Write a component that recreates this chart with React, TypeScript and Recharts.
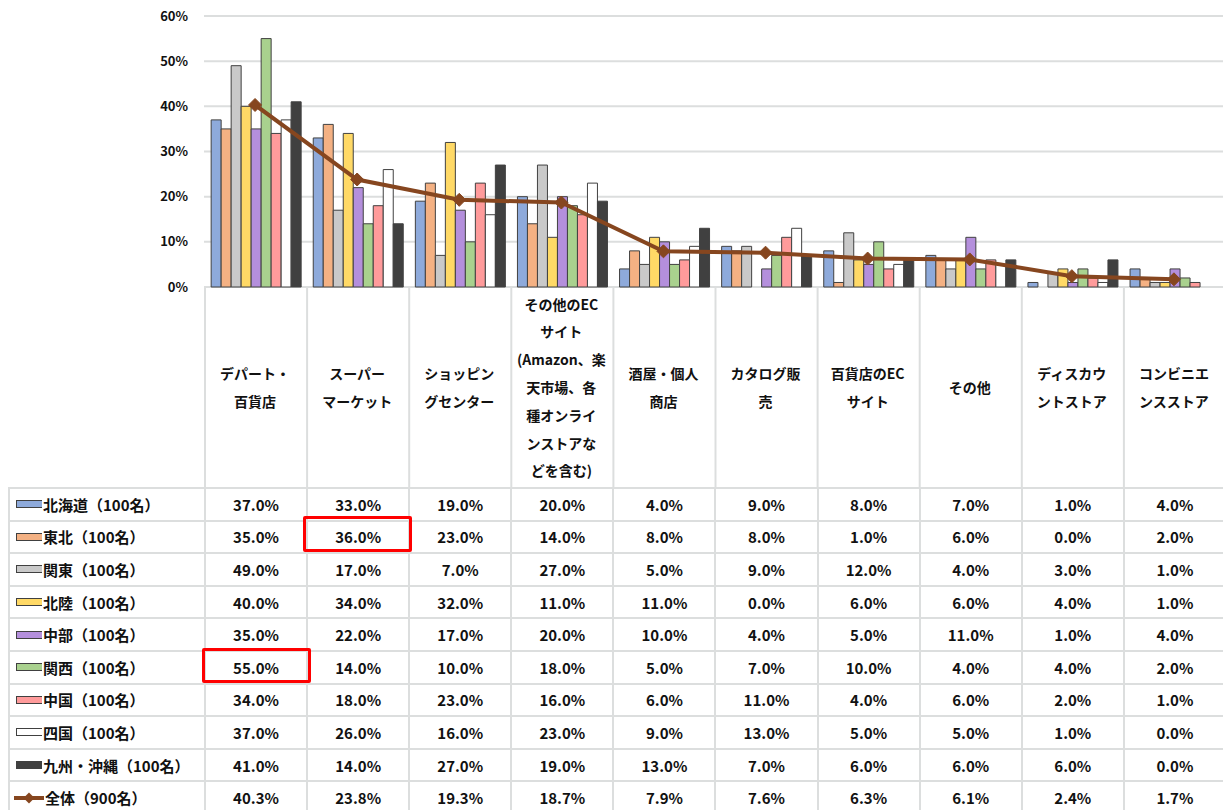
import React from 'react'
import { Bar, CartesianGrid, ComposedChart, Line, XAxis, YAxis } from 'recharts'

// 購入場所（地域別）— values in %
const CATEGORIES = [
  'デパート・百貨店',
  'スーパーマーケット',
  'ショッピングセンター',
  'その他のECサイト(Amazon、楽天市場、各種オンラインストアなどを含む)',
  '酒屋・個人商店',
  'カタログ販売',
  '百貨店のECサイト',
  'その他',
  'ディスカウントストア',
  'コンビニエンスストア',
]

// how each category label wraps in the header row
const CATEGORY_LINES: string[][] = [
  ['デパート・', '百貨店'],
  ['スーパー', 'マーケット'],
  ['ショッピン', 'グセンター'],
  ['その他のEC', 'サイト', '(Amazon、楽', '天市場、各', '種オンライ', 'ンストアな', 'どを含む)'],
  ['酒屋・個人', '商店'],
  ['カタログ販', '売'],
  ['百貨店のEC', 'サイト'],
  ['その他'],
  ['ディスカウ', 'ントストア'],
  ['コンビニエ', 'ンスストア'],
]

const REGION_LABELS = [
  '北海道（100名）',
  '東北（100名）',
  '関東（100名）',
  '北陸（100名）',
  '中部（100名）',
  '関西（100名）',
  '中国（100名）',
  '四国（100名）',
  '九州・沖縄（100名）',
]
const TOTAL_LABEL = '全体（900名）'

const HOKKAIDO = [37, 33, 19, 20, 4, 9, 8, 7, 1, 4]
const TOHOKU = [35, 36, 23, 14, 8, 8, 1, 6, 0, 2]
const KANTO = [49, 17, 7, 27, 5, 9, 12, 4, 3, 1]
const HOKURIKU = [40, 34, 32, 11, 11, 0, 6, 6, 4, 1]
const CHUBU = [35, 22, 17, 20, 10, 4, 5, 11, 1, 4]
const KANSAI = [55, 14, 10, 18, 5, 7, 10, 4, 4, 2]
const CHUGOKU = [34, 18, 23, 16, 6, 11, 4, 6, 2, 1]
const SHIKOKU = [37, 26, 16, 23, 9, 13, 5, 5, 1, 0]
const KYUSHU = [41, 14, 27, 19, 13, 7, 6, 6, 6, 0]
const TOTAL = [40.3, 23.8, 19.3, 18.7, 7.9, 7.6, 6.3, 6.1, 2.4, 1.7]

const Y_TICKS = [0, 10, 20, 30, 40, 50, 60]

const REGION_VALUES = [HOKKAIDO, TOHOKU, KANTO, HOKURIKU, CHUBU, KANSAI, CHUGOKU, SHIKOKU, KYUSHU]
const REGION_COLORS = ['#8eaadb', '#f4b183', '#c9c9c9', '#ffd966', '#b48fdc', '#a9d18e', '#ff9b9b', '#ffffff', '#404040']
const LINE_COLOR = '#86461f'
const GRID = '#dcdede'
const FONT = '"Noto Sans CJK JP", "Noto Sans", sans-serif'

const COL_W = 102.1
const data = CATEGORIES.map((category, i) => {
  const row: Record<string, string | number> = { category, total: TOTAL[i] }
  REGION_VALUES.forEach((vals, s) => {
    row[`r${s}`] = vals[i]
  })
  return row
})

const Diamond = (props: any) => {
  const { cx, cy, index } = props
  if (cx == null || cy == null) return <g key={index} />
  const r = 6.5
  return (
    <path
      key={index}
      d={`M${cx},${cy - r}L${cx + r},${cy}L${cx},${cy + r}L${cx - r},${cy}Z`}
      fill={LINE_COLOR}
      stroke={LINE_COLOR}
    />
  )
}

const HeaderTick = (props: any) => {
  const { x, y, payload } = props
  const idx = CATEGORIES.indexOf(payload.value)
  const lines = CATEGORY_LINES[idx] || [payload.value]
  const step = 27.8
  const cy = y + 100
  const first = cy - ((lines.length - 1) * step) / 2
  return (
    <g>
      <line x1={x - COL_W / 2 + 1} x2={x - COL_W / 2 + 1} y1={y} y2={y + 200} stroke={GRID} strokeWidth={2} />
      {idx === CATEGORIES.length - 1 && (
        <line x1={x + COL_W / 2 + 1} x2={x + COL_W / 2 + 1} y1={y} y2={y + 200} stroke={GRID} strokeWidth={2} />
      )}
      <text
        x={x}
        textAnchor="middle"
        dominantBaseline="central"
        fontFamily={FONT}
        fontWeight="bold"
        fontSize={14}
        fill="#111"
      >
        {lines.map((t, i) => (
          <tspan key={i} x={x} y={first + i * step}>
            {t}
          </tspan>
        ))}
      </text>
    </g>
  )
}

function Swatch({ color }: { color: string }) {
  return (
    <svg width={30} height={12} style={{ display: 'block', flex: 'none' }}>
      <rect x={4.5} y={2.5} width={26} height={7} fill={color} stroke="#404040" strokeWidth={1} />
    </svg>
  )
}

function LineSwatch() {
  return (
    <svg width={32} height={12} style={{ display: 'block', flex: 'none' }}>
      <line x1={2} x2={32} y1={6} y2={6} stroke={LINE_COLOR} strokeWidth={4} />
      <path d="M17,0.5L22.5,6L17,11.5L11.5,6Z" fill={LINE_COLOR} />
    </svg>
  )
}

const cellBase: React.CSSProperties = {
  boxSizing: 'border-box',
  borderLeft: `2px solid ${GRID}`,
  borderTop: `2px solid ${GRID}`,
  display: 'flex',
  alignItems: 'center',
  fontWeight: 'bold',
  fontSize: 15,
  color: '#111',
  whiteSpace: 'nowrap',
}

export default function App() {
  const rows = [
    ...REGION_LABELS.map((label, s) => ({ label, values: REGION_VALUES[s], swatch: <Swatch color={REGION_COLORS[s]} /> })),
    { label: TOTAL_LABEL, values: TOTAL, swatch: <LineSwatch /> },
  ]

  return (
    <div
      style={{
        position: 'absolute',
        left: 0,
        top: 0,
        width: 1223,
        height: 810,
        overflow: 'hidden',
        background: '#fff',
        fontFamily: FONT,
      }}
    >
      <div style={{ position: 'absolute', left: 0, top: 0 }}>
        <ComposedChart
          width={1232}
          height={487}
          data={data}
          margin={{ top: 16, right: 7, bottom: 0, left: 144 }}
          barCategoryGap="7%"
          barGap={0}
        >
          <CartesianGrid vertical={false} stroke={GRID} strokeWidth={2} />
          <XAxis
            dataKey="category"
            height={200}
            interval={0}
            axisLine={false}
            tickLine={false}
            tickSize={0}
            tickMargin={0}
            tick={<HeaderTick />}
          />
          <YAxis
            width={60}
            domain={[0, 60]}
            ticks={Y_TICKS}
            axisLine={false}
            tickLine={false}
            tickSize={0}
            tickMargin={16}
            tickFormatter={(v: number) => `${v}%`}
            tick={{ fontFamily: FONT, fontWeight: 'bold', fontSize: 13, fill: '#111' }}
          />
          {REGION_LABELS.map((name, s) => (
            <Bar
              key={name}
              dataKey={`r${s}`}
              name={name}
              fill={REGION_COLORS[s]}
              stroke="#404040"
              strokeWidth={1}
              isAnimationActive={false}
            />
          ))}
          <Line
            type="linear"
            dataKey="total"
            name={TOTAL_LABEL}
            stroke={LINE_COLOR}
            strokeWidth={4}
            dot={Diamond}
            activeDot={false}
            isAnimationActive={false}
          />
        </ComposedChart>
      </div>

      <div
        style={{
          position: 'absolute',
          left: 8,
          top: 487,
          display: 'grid',
          gridTemplateColumns: `196px repeat(10, ${COL_W}px)`,
          gridAutoRows: '32.6px',
        }}
      >
        {rows.map((row) => (
          <React.Fragment key={row.label}>
            <div style={{ ...cellBase, paddingLeft: 2, gap: 1 }}>
              {row.swatch}
              <span>{row.label}</span>
            </div>
            {row.values.map((v, i) => (
              <div key={i} style={{ ...cellBase, justifyContent: 'center' }}>
                {v.toFixed(1)}%
              </div>
            ))}
          </React.Fragment>
        ))}
      </div>

      <div
        style={{
          position: 'absolute',
          left: 303,
          top: 516,
          width: 109,
          height: 36,
          boxSizing: 'border-box',
          border: '3.5px solid #ff0000',
          borderRadius: 2,
        }}
      />
      <div
        style={{
          position: 'absolute',
          left: 202,
          top: 648,
          width: 109,
          height: 35,
          boxSizing: 'border-box',
          border: '3.5px solid #ff0000',
          borderRadius: 2,
        }}
      />
    </div>
  )
}
